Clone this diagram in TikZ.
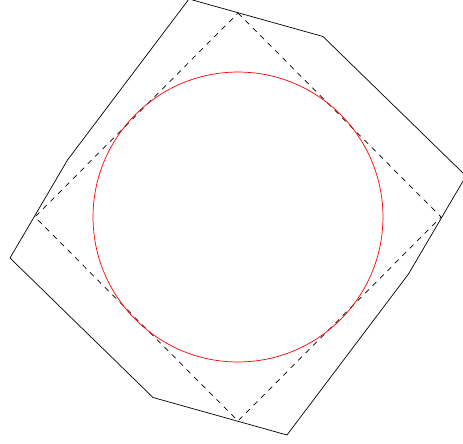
\documentclass[tikz,border=0pt]{standalone}
\usepackage{tikz}

\begin{document}
\begin{tikzpicture}[x=0.02cm, y=0.02cm]
	\useasboundingbox (-238,-226) rectangle (225,217);
	\coordinate (O) at (0,0);
	% outer polygon
	\draw (-49,218) -- (85,180.5) -- (228,41) -- (170.5,-57) -- (49,-218) -- (-85,-180.5) -- (-228,-41) -- (-170.5,57) -- cycle;
	% square through the touching points
	\draw[dashed] (0,204) -- (203,0) -- (0,-204) -- (-203,0) -- cycle;
	\draw[red] (O) circle (2.9cm);
\end{tikzpicture}
\end{document}
